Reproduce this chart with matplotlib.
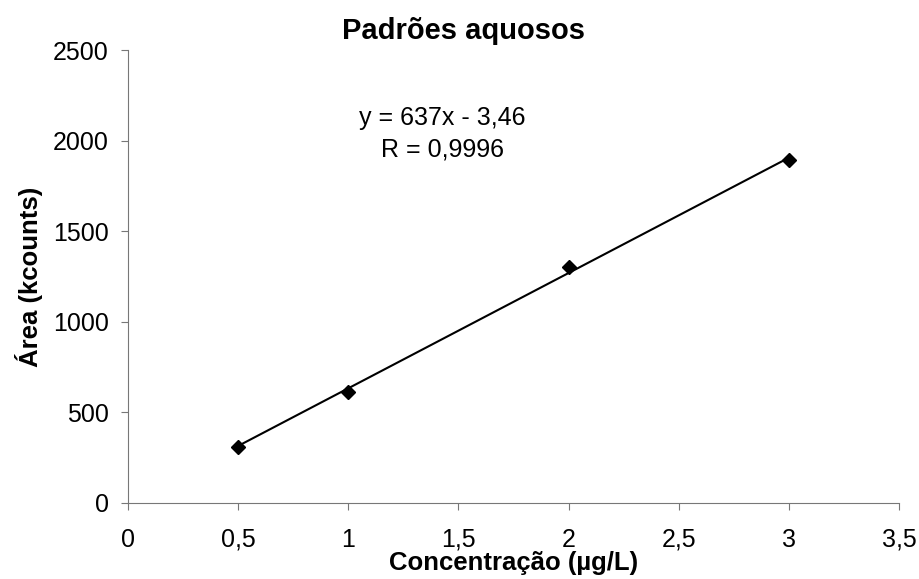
import numpy as np
import matplotlib.pyplot as plt

plt.rcParams['font.family'] = ['Liberation Sans', 'DejaVu Sans']

# calibration standards (aqueous)
conc = [0.5, 1.0, 2.0, 3.0]
area = [308, 615, 1304, 1895]

# linear fit reported on the chart
slope = 637
intercept = -3.46
r_value = 0.9996

xticks = [0, 0.5, 1, 1.5, 2, 2.5, 3, 3.5]
yticks = [0, 500, 1000, 1500, 2000, 2500]


def virgula(v):
    s = ('%g' % v)
    return s.replace('.', ',')


fig = plt.figure(figsize=(9.2, 5.79), dpi=100)
ax = fig.add_axes([0.1391, 0.1313, 0.8381, 0.7815])

# fitted line between first and last standard
xfit = np.array([conc[0], conc[-1]])
ax.plot(xfit, slope * xfit + intercept, color='black', lw=1.5, zorder=2)
ax.plot(conc, area, ls='none', marker='D', ms=7, color='black', zorder=3)

ax.set_xlim(0, 3.5)
ax.set_ylim(0, 2500)
ax.set_xticks(xticks)
ax.set_yticks(yticks)
ax.set_xticklabels([virgula(t) for t in xticks])
ax.set_yticklabels([str(t) for t in yticks])

for side in ['top', 'right']:
    ax.spines[side].set_visible(False)
for side in ['left', 'bottom']:
    ax.spines[side].set_color('#777777')
    ax.spines[side].set_linewidth(0.8)
ax.tick_params(direction='out', length=5, width=0.8, color='#777777',
               labelsize=18, labelcolor='black')
ax.tick_params(axis='x', pad=13)
ax.tick_params(axis='y', pad=9)

ax.set_xlabel('Concentração (µg/L)', fontsize=18.5, fontweight='bold', labelpad=-1)
ax.set_ylabel('Área (kcounts)', fontsize=18.5, fontweight='bold', labelpad=7)

fig.text(0.504, 0.9326, 'Padrões aquosos', ha='center', va='baseline',
         fontsize=21, fontweight='bold')

eq = 'y = %dx - %s' % (slope, virgula(abs(intercept)))
ax.text(1.427, 2088, eq, ha='center', va='baseline', fontsize=18)
ax.text(1.427, 1912, 'R = ' + virgula(r_value), ha='center', va='baseline', fontsize=18)

fig.savefig('out.png', dpi=100)
